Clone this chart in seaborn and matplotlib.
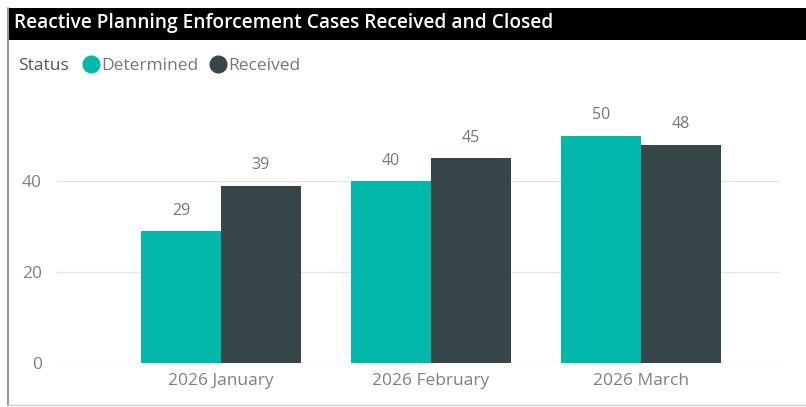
import pandas as pd
import seaborn as sns
import matplotlib.pyplot as plt
from matplotlib.lines import Line2D
from matplotlib.patches import Rectangle

months = ["2026 January", "2026 February", "2026 March"]
determined = [29, 40, 50]
received = [39, 45, 48]
statuses = ["Determined", "Received"]
colors = ["#01B8AA", "#374649"]
y_ticks = [0, 20, 40]


def build_frame() -> pd.DataFrame:
    rows = []
    for month, d, r in zip(months, determined, received):
        rows.append({"Month": month, "Status": "Determined", "Cases": d})
        rows.append({"Month": month, "Status": "Received", "Cases": r})
    return pd.DataFrame(rows)


def main() -> None:
    sns.set_theme(style="white")
    plt.rcParams["font.family"] = ["Open Sans", "DejaVu Sans"]

    df = build_frame()

    fig = plt.figure(figsize=(8.06, 4.07), dpi=100)
    ax = fig.add_axes([57 / 806, 1 - 363 / 407, (780 - 57) / 806, (363 - 113) / 407])

    sns.barplot(
        data=df, x="Month", y="Cases", hue="Status",
        hue_order=statuses, palette=colors, width=0.76,
        linewidth=0, saturation=1, ax=ax, legend=False,
    )

    for container in ax.containers:
        ax.bar_label(container, padding=9, fontsize=11.5, color="#777777")

    ax.set_xlim(-0.78, 2.66)
    ax.set_ylim(0, 55)
    ax.set_yticks(y_ticks)
    ax.yaxis.grid(True, color="#e6e6e6", linewidth=1)
    ax.set_axisbelow(True)
    ax.set_xlabel("")
    ax.set_ylabel("")
    for spine in ax.spines.values():
        spine.set_visible(False)
    ax.tick_params(axis="both", length=0, labelsize=12.5, labelcolor="#808080")
    ax.tick_params(axis="y", pad=11)
    ax.tick_params(axis="x", pad=7)

    # title bar
    fig.patches.append(Rectangle((8 / 806, 1 - 40 / 407), 1, 32 / 407,
                                 transform=fig.transFigure, facecolor="black",
                                 edgecolor="none", zorder=0))
    fig.text(14 / 806, 1 - 23 / 407,
             "Reactive Planning Enforcement Cases Received and Closed",
             color="white", fontsize=13.8, fontweight="semibold",
             va="center", ha="left")

    # frame lines
    fig.add_artist(Line2D([8 / 806, 8 / 806], [2 / 407, 1 - 8 / 407],
                          transform=fig.transFigure, color="#9a9a9a", linewidth=1.5))
    fig.add_artist(Line2D([8 / 806, 1], [2 / 407, 2 / 407],
                          transform=fig.transFigure, color="#cfcfcf", linewidth=1))

    # legend
    fig.text(18 / 806, 1 - 66 / 407, "Status", color="#555555",
             fontsize=12.5, va="center", ha="left")
    handles = [
        Line2D([0], [0], marker="o", linestyle="", markersize=12,
               markerfacecolor=c, markeredgecolor=c)
        for c in colors
    ]
    fig.legend(
        handles, statuses, loc="center left",
        bbox_to_anchor=(72 / 806, 1 - 66 / 407), ncol=2, frameon=False,
        handletextpad=0.0, columnspacing=0.5, borderpad=0, handlelength=1.2,
        fontsize=12.5, labelcolor="#777777",
    )

    fig.savefig("out.png", dpi=100)


if __name__ == "__main__":
    main()
